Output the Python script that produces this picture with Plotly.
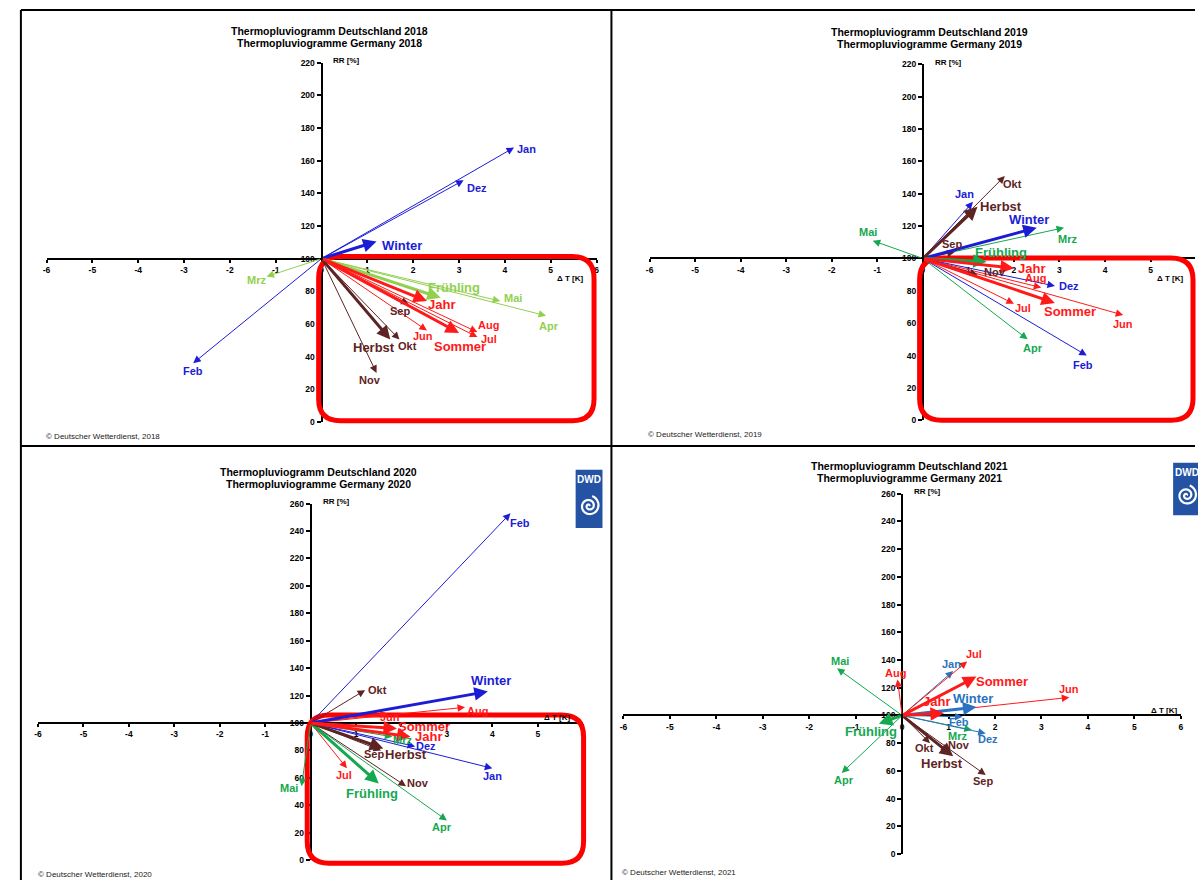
import numpy as np
import plotly.graph_objects as go

W, H = 1198, 885
FONT = "Liberation Sans"

# ---------------- data ----------------
labels = ["Jan", "Feb", "Mrz", "Apr", "Mai", "Jun", "Jul", "Aug", "Sep", "Okt", "Nov", "Dez",
          "Winter", "Frühling", "Sommer", "Herbst", "Jahr"]
season_group = ["W", "W", "F", "F", "F", "S", "S", "S", "H", "H", "H", "W",
                "W", "F", "S", "H", "S"]
is_aggregate = [False] * 12 + [True] * 5

years = [2018, 2019, 2020, 2021]

dT_2018 = [4.2, -2.8, -1.2, 4.9, 3.9, 2.3, 3.4, 3.4, 1.9, 1.7, 1.2, 3.1, 1.2, 2.6, 3.0, 1.5, 2.3]
RR_2018 = [168, 36, 89, 65, 74, 56, 52, 55, 72, 50.5, 30, 148, 110.5, 76, 54.5, 50.5, 74]

dT_2019 = [1.1, 3.6, 3.1, 2.3, -1.1, 4.4, 2.0, 2.6, 0.7, 1.8, 1.2, 2.9, 2.5, 1.4, 2.9, 1.2, 2.0]
RR_2019 = [135, 40, 119, 50, 111, 65, 72, 82, 104, 151, 90, 83, 119, 98, 72.5, 132, 94]

dT_2020 = [4.0, 4.4, 1.8, 3.0, -0.2, 1.7, 0.8, 3.4, 1.55, 1.2, 2.1, 2.3, 3.9, 1.5, 1.9, 1.6, 2.2]
RR_2020 = [67, 253, 90, 29, 54, 107, 67, 111.5, 80, 124, 54, 83, 123, 56, 96, 81.5, 90]

dT_2021 = [1.1, 1.3, 1.5, -1.3, -1.4, 3.6, 1.4, -0.1, 1.8, 0.6, 1.0, 1.8, 1.6, -0.5, 1.6, 1.1, 0.9]
RR_2021 = [132, 99, 89.5, 58.5, 134, 113, 139, 126, 57, 80, 74, 87, 106, 94, 128, 70.5, 101.5]

dT = {2018: dT_2018, 2019: dT_2019, 2020: dT_2020, 2021: dT_2021}
RR = {2018: RR_2018, 2019: RR_2019, 2020: RR_2020, 2021: RR_2021}

x_ticks = [-6, -5, -4, -3, -2, -1, 0, 1, 2, 3, 4, 5, 6]
y_top = {2018: 220, 2019: 220, 2020: 260, 2021: 260}

title_de = "Thermopluviogramm Deutschland {}"
title_en = "Thermopluviogramme Germany {}"
copyright_txt = "© Deutscher Wetterdienst, {}"

# ---------------- styles ----------------
colors = {
    2018: {"W": "#1c1cd6", "F": "#92d050", "S": "#ff1a1a", "H": "#5e2424"},
    2019: {"W": "#1c1cd6", "F": "#14a84f", "S": "#ff1a1a", "H": "#5e2424"},
    2020: {"W": "#1c1cd6", "F": "#14a84f", "S": "#ff1a1a", "H": "#5e2424"},
    2021: {"W": "#2a72c0", "F": "#14a84f", "S": "#ff1a1a", "H": "#5e2424"},
}

# label offsets from arrow tip (screen px: dx right, dy down)
offsets = {
    2018: {"Jan": (12, 1), "Dez": (13, 8), "Feb": (0, 8), "Winter": (25, 4), "Mrz": (-10, 3),
           "Apr": (3, 10), "Mai": (13, -3), "Frühling": (13, -10), "Jahr": (15, 3), "Sep": (-9, 7),
           "Jun": (-4, 6), "Aug": (11, -7), "Jul": (12, 2), "Sommer": (1, 14), "Herbst": (-16, 8),
           "Okt": (8, 7), "Nov": (-7, 7)},
    2019: {"Jan": (-8, -8), "Okt": (8, 8), "Herbst": (24, 0), "Winter": (-8, -8), "Mrz": (3, 11),
           "Mai": (-5, -9), "Sep": (-3, -8), "Frühling": (14, -9), "Jahr": (18, 0), "Nov": (18, -3),
           "Aug": (-6, -10), "Dez": (14, 0), "Jul": (9, 4), "Sommer": (15, 9), "Jun": (0, 9),
           "Apr": (5, 9), "Feb": (-4, 9)},
    2020: {"Feb": (9, 10), "Winter": (3, -11), "Okt": (12, 0), "Aug": (12, 4), "Jun": (2, 4),
           "Sommer": (27, -2), "Jahr": (18, 0), "Mrz": (10, 3), "Dez": (11, 0), "Herbst": (23, 6),
           "Sep": (-7, 4), "Jan": (0, 8), "Jul": (-3, 7), "Nov": (12, -3), "Frühling": (-7, 10),
           "Apr": (-5, 7), "Mai": (-13, 2)},
    2021: {"Mai": (3, -7), "Aug": (-2, -6), "Jan": (-2, -7), "Jul": (7, -7), "Sommer": (26, 5),
           "Jun": (0, -8), "Jahr": (-7, -12), "Winter": (-3, -9), "Feb": (-3, 5), "Frühling": (-8, 8),
           "Mrz": (-14, 6), "Dez": (2, 6), "Okt": (-5, 5), "Nov": (10, -6), "Herbst": (-11, 7),
           "Sep": (-3, 6), "Apr": (2, 7)},
}

# panel geometry in pixels: x of -6, x of +6, y of 0, y of top
geom = {
    2018: dict(xl=42.8, xr=596.0, yb=421.7, yt=58.3),
    2019: dict(xl=649.4, xr=1199.1, yb=420.0, yt=60.0),
    2020: dict(xl=34.2, xr=582.6, yb=865.0, yt=504.3),
    2021: dict(xl=623.1, xr=1183.7, yb=858.7, yt=494.3),
}
title_pos = {2018: (327, 26.5), 2019: (931, 27.5), 2020: (316, 472), 2021: (911, 466.5)}
copy_pos = {2018: (40, 436), 2019: (646, 434), 2020: (32, 879), 2021: (620, 877)}
dt_label = {2018: (585, 277), 2019: (1189, 277), 2020: (572, 721), 2021: (1183, 714)}


def px(x):
    return x / W


def py(y):
    return 1 - y / H


fig = go.Figure()
layout = dict(width=W, height=H, margin=dict(l=0, r=0, t=0, b=0),
              paper_bgcolor="white", plot_bgcolor="rgba(0,0,0,0)", showlegend=False)
annotations = []
shapes = []

for i, yr in enumerate(years):
    n = "" if i == 0 else str(i + 1)
    g = geom[yr]
    ppk = (g["xr"] - g["xl"]) / 12.0
    x0px = g["xl"] + 6 * ppk
    top = y_top[yr]
    ppp = (g["yb"] - g["yt"]) / top
    y100 = g["yb"] - 100 * ppp
    xr_px = min(g["xr"], W)
    xmax = -6 + (xr_px - g["xl"]) / ppk

    layout["xaxis" + n] = dict(
        domain=[px(g["xl"]), px(xr_px)], range=[-6, xmax], anchor="free", position=py(y100),
        showline=True, linecolor="black", linewidth=2, showgrid=False, zeroline=False,
        tickmode="array", tickvals=x_ticks, ticktext=[str(v) for v in x_ticks],
        ticks="outside", ticklen=3, tickwidth=1.5, tickcolor="black",
        tickfont=dict(family=FONT, size=8.5, color="black", weight="bold"),
        fixedrange=True)
    yt = list(range(0, top + 1, 20))
    layout["yaxis" + n] = dict(
        domain=[py(g["yb"]), py(g["yt"])], range=[0, top], anchor="free", position=px(x0px),
        showline=True, linecolor="black", linewidth=2, showgrid=False, zeroline=False,
        tickmode="array", tickvals=yt, ticktext=[str(v) for v in yt],
        ticks="outside", ticklen=4, tickwidth=1.5, tickcolor="black",
        tickfont=dict(family=FONT, size=8.5, color="black", weight="bold"),
        fixedrange=True)

    xr = "x" + n
    yr_ = "y" + n
    fig.add_trace(go.Scatter(x=dT[yr], y=RR[yr], xaxis=xr, yaxis=yr_, mode="markers",
                             marker=dict(size=1, opacity=0), hoverinfo="skip"))

    order = list(range(12)) + list(range(12, 17))
    for k in order:
        col = colors[yr][season_group[k]]
        agg = is_aggregate[k]
        annotations.append(dict(
            x=dT[yr][k], y=RR[yr][k], ax=0, ay=100, xref=xr, yref=yr_, axref=xr, ayref=yr_,
            text="", showarrow=True, arrowhead=2, arrowsize=0.9 if agg else 1.5,
            arrowwidth=3 if agg else 1, arrowcolor=col, standoff=0))
    for k in order:
        lab = labels[k]
        col = colors[yr][season_group[k]]
        agg = is_aggregate[k]
        dx, dy = offsets[yr][lab]
        annotations.append(dict(
            x=dT[yr][k], y=RR[yr][k], xref=xr, yref=yr_, text=lab, showarrow=False,
            xanchor="center", yanchor="middle", xshift=dx, yshift=-dy,
            font=dict(family=FONT, size=13 if agg else 11, color=col, weight="bold")))

    annotations.append(dict(x=px(x0px + 10), y=py(g["yt"] - 2), xref="paper", yref="paper",
                            text="RR [%]", showarrow=False, xanchor="left", yanchor="middle",
                            font=dict(family=FONT, size=8, color="black", weight="bold")))
    dx_, dy_ = dt_label[yr]
    annotations.append(dict(x=px(dx_), y=py(dy_), xref="paper", yref="paper",
                            text="\u0394 T [K]", showarrow=False, xanchor="right", yanchor="middle",
                            font=dict(family=FONT, size=8, color="black", weight="bold")))
    tx, ty = title_pos[yr]
    annotations.append(dict(x=px(tx), y=py(ty), xref="paper", yref="paper",
                            text=title_de.format(yr), showarrow=False, xanchor="center",
                            yanchor="middle",
                            font=dict(family=FONT, size=10.5, color="black", weight="bold")))
    annotations.append(dict(x=px(tx), y=py(ty + 12), xref="paper", yref="paper",
                            text=title_en.format(yr), showarrow=False, xanchor="center",
                            yanchor="middle",
                            font=dict(family=FONT, size=10.5, color="black", weight="bold")))
    cx, cy = copy_pos[yr]
    annotations.append(dict(x=px(cx), y=py(cy), xref="paper", yref="paper",
                            text=copyright_txt.format(yr), showarrow=False, xanchor="left",
                            yanchor="middle",
                            font=dict(family=FONT, size=8, color="#222222")))

# ---------------- frame lines ----------------
frame = [((17, 5), (W, 5)), ((17, 5), (17, H)), ((611, 5), (611, H)), ((17, 446), (W, 446))]
for (a, b) in frame:
    shapes.append(dict(type="line", xref="paper", yref="paper", x0=px(a[0]), y0=py(a[1]),
                       x1=px(b[0]), y1=py(b[1]), line=dict(color="black", width=2)))


# ---------------- red rounded highlight boxes ----------------
def rrect(x0, y0, x1, y1, r):
    P = lambda x, y: f"{px(x):.5f},{py(y):.5f}"
    return (f"M {P(x0 + r, y0)} L {P(x1 - r, y0)} Q {P(x1, y0)} {P(x1, y0 + r)} "
            f"L {P(x1, y1 - r)} Q {P(x1, y1)} {P(x1 - r, y1)} L {P(x0 + r, y1)} "
            f"Q {P(x0, y1)} {P(x0, y1 - r)} L {P(x0, y0 + r)} Q {P(x0, y0)} {P(x0 + r, y0)} Z")


for box in [(316.5, 254.5, 593.5, 420.5), (921, 256, 1196, 420), (305, 718, 583, 868)]:
    shapes.append(dict(type="path", xref="paper", yref="paper", path=rrect(*box, 22),
                       line=dict(color="#ff0000", width=5), fillcolor="rgba(0,0,0,0)",
                       layer="above"))


# ---------------- DWD logos ----------------
def logo(x0, y0, w, h):
    shapes.append(dict(type="rect", xref="paper", yref="paper", x0=px(x0), x1=px(x0 + w),
                       y0=py(y0 + h), y1=py(y0), fillcolor="#2453a4", line=dict(width=0),
                       layer="above"))
    annotations.append(dict(x=px(x0 + w / 2), y=py(y0 + 10), xref="paper", yref="paper",
                            text="DWD", showarrow=False, xanchor="center", yanchor="middle",
                            font=dict(family=FONT, size=10, color="white", weight="bold")))
    cxl, cyl = x0 + w / 2, y0 + h * 0.62
    th = np.linspace(0.3, 4.4 * np.pi, 120)
    r = 0.75 * th
    xs = cxl + r * np.cos(th)
    ys = cyl - r * np.sin(th)
    path = "M " + " L ".join(f"{px(a):.5f},{py(b):.5f}" for a, b in zip(xs, ys))
    shapes.append(dict(type="path", xref="paper", yref="paper", path=path,
                       line=dict(color="white", width=2.2), layer="above"))


logo(575, 470, 27, 59)
logo(1176, 463, 27, 53)

layout["annotations"] = annotations
layout["shapes"] = shapes
fig.update_layout(**layout)
fig.write_html("out.html", config={"displayModeBar": False},
               post_script="document.body.style.margin='0';document.body.style.overflow='hidden';")
